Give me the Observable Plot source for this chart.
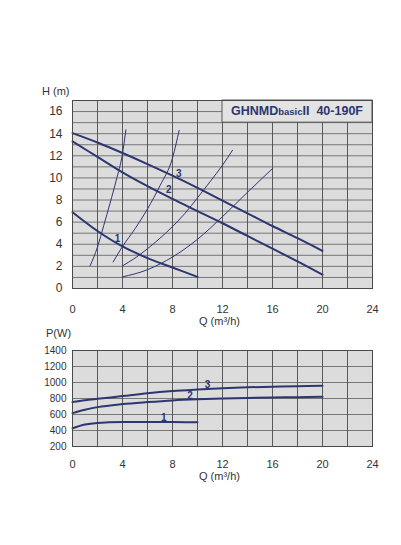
<!DOCTYPE html>
<html>
<head>
<meta charset="utf-8">
<script src="https://cdn.jsdelivr.net/npm/d3@7"></script>
<script src="https://cdn.jsdelivr.net/npm/@observablehq/plot@0.6"></script>
<style>
  html, body { margin: 0; padding: 0; background: #fff; }
  #page { position: relative; width: 401px; height: 545px; background: #fff; font-family: "Liberation Sans", Arial, sans-serif; color: #333; }
  .lbl { position: absolute; font-size: 11px; white-space: nowrap; color: #333; }
  #title { position: absolute; left: 222px; top: 100px; width: 150px; height: 22px; line-height: 22px; text-align: center; color: #2b3670; font-weight: bold; font-size: 12.5px; white-space: nowrap; }
  #title .sm { font-size: 9.5px; }
</style>
</head>
<body>
<div id="page">
  <div id="topChart" style="position:absolute;left:0;top:0"></div>
  <div id="botChart" style="position:absolute;left:0;top:330px"></div>
  <div class="lbl" style="left:42px;top:85px">H (m)</div>
  <div class="lbl" style="left:199px;top:315px">Q (m³/h)</div>
  <div class="lbl" style="left:46px;top:327px">P(W)</div>
  <div class="lbl" style="left:199px;top:470px">Q (m³/h)</div>
  <div id="title">GHNMD<span class="sm">basic</span>II&nbsp; 40-190F</div>
</div>
<script>
// ---------- Data ----------
// Head curves H(Q)
const qPump = [0, 2, 4, 6, 8, 10, 12, 14, 16, 18, 20];
const h3 = [14.05, 13.2, 12.25, 11.25, 10.2, 9.1, 7.95, 6.8, 5.65, 4.55, 3.4];
const h2 = [13.3, 11.9, 10.5, 9.25, 8.1, 7.0, 5.9, 4.75, 3.6, 2.45, 1.25];
const qPump1 = [0, 2, 4, 6, 8, 10];
const h1 = [6.9, 5.2, 3.8, 2.75, 1.9, 1.05];

// System (thin) curves
const qSysA = [1.41, 2.0, 2.5, 3.0, 3.5, 4.0, 4.27];
const hSysA = [2.05, 3.75, 5.7, 7.7, 9.8, 12.2, 14.35];
const qSysB = [3.25, 4, 5, 6, 7, 8, 8.53];
const hSysB = [2.4, 3.8, 5.4, 7.2, 9.3, 11.8, 14.3];
const qSysC = [4, 5, 6, 7, 8, 9, 10, 11, 12, 12.8];
const hSysC = [2.05, 2.75, 3.6, 4.55, 5.6, 6.8, 8.2, 9.65, 11.15, 12.5];
const qSysD = [4, 6, 8, 10, 12, 14, 16];
const hSysD = [1.05, 1.7, 2.85, 4.45, 6.5, 8.7, 10.85];

// Curve labels (top)
const topLabels = ["1", "2", "3"];
const topLabelQ = [3.6, 7.7, 8.5];
const topLabelH = [4.5, 8.9, 10.35];

// Power curves P(Q)
const qPow = [0, 1, 2, 4, 6, 8, 10, 12, 14, 16, 18, 20];
const p3 = [755, 778, 796, 830, 866, 893, 912, 928, 940, 947, 953, 958];
const p2 = [617, 660, 692, 730, 755, 776, 790, 800, 807, 812, 817, 821];
const qPow1 = [0, 1, 2, 4, 6, 8, 10];
const p1 = [428, 475, 495, 506, 507, 505, 503];

const botLabels = ["1", "2", "3"];
const botLabelQ = [7.3, 9.4, 10.8];
const botLabelP = [554, 837, 971];

// Ticks
const xTicks = [0, 4, 8, 12, 16, 20, 24];
const xGrid = [2, 4, 6, 8, 10, 12, 14, 16, 18, 20, 22];
const hTicks = [0, 2, 4, 6, 8, 10, 12, 14, 16];
const hGrid = [1,2,3,4,5,6,7,8,9,10,11,12,13,14,15,16];
const pTicks = [200, 400, 600, 800, 1000, 1200, 1400];

// Title box extent (data units)
const titleBox = [{x1: 12, x2: 24, y1: 15, y2: 17}];

// ---------- Build ----------
const navy = "#2d3670";
const gridColor = "#4a4a4a";
const bg = "#dcdcdc";
const zip = (xs, ys) => xs.map((x, i) => ({x, y: ys[i]}));
const crv = "monotone-x";

const topPlot = Plot.plot({
  width: 401, height: 330,
  marginLeft: 72, marginRight: 29, marginTop: 100, marginBottom: 42,
  style: {fontFamily: "Liberation Sans, Arial, sans-serif", fontSize: "11px", color: "#333", background: "transparent"},
  x: {domain: [0, 24]},
  y: {domain: [0, 17]},
  marks: [
    Plot.frame({fill: bg}),
    Plot.gridX(xGrid, {stroke: gridColor, strokeOpacity: 1, strokeWidth: 0.9}),
    Plot.gridY(hGrid, {stroke: gridColor, strokeOpacity: 1, strokeWidth: 0.7}),
    Plot.rect(titleBox, {x1: "x1", x2: "x2", y1: "y1", y2: "y2", fill: "#e3e3e3", stroke: gridColor, strokeWidth: 0.9}),
    Plot.line(zip(qSysA, hSysA), {x: "x", y: "y", stroke: navy, strokeWidth: 1, curve: crv}),
    Plot.line(zip(qSysB, hSysB), {x: "x", y: "y", stroke: navy, strokeWidth: 1, curve: crv}),
    Plot.line(zip(qSysC, hSysC), {x: "x", y: "y", stroke: navy, strokeWidth: 1, curve: crv}),
    Plot.line(zip(qSysD, hSysD), {x: "x", y: "y", stroke: navy, strokeWidth: 1, curve: crv}),
    Plot.line(zip(qPump, h3), {x: "x", y: "y", stroke: navy, strokeWidth: 2, curve: crv}),
    Plot.line(zip(qPump, h2), {x: "x", y: "y", stroke: navy, strokeWidth: 2, curve: crv}),
    Plot.line(zip(qPump1, h1), {x: "x", y: "y", stroke: navy, strokeWidth: 2, curve: crv}),
    Plot.text(topLabels.map((t, i) => ({t, x: topLabelQ[i], y: topLabelH[i]})), {x: "x", y: "y", text: "t", fill: navy, fontWeight: "bold", fontSize: 10}),
    Plot.frame({stroke: gridColor, strokeWidth: 1}),
    Plot.axisX(xTicks, {tickSize: 0, tickPadding: 17, label: null, fontSize: 11, fill: "#333", tickFormat: d => String(d)}),
    Plot.axisY(hTicks, {tickSize: 0, tickPadding: 10, label: null, fontSize: 12, fill: "#333", tickFormat: d => String(d)})
  ]
});
document.getElementById("topChart").appendChild(topPlot);

const botPlot = Plot.plot({
  width: 401, height: 160,
  marginLeft: 72, marginRight: 29, marginTop: 20, marginBottom: 44,
  style: {fontFamily: "Liberation Sans, Arial, sans-serif", fontSize: "11px", color: "#333", background: "transparent"},
  x: {domain: [0, 24]},
  y: {domain: [200, 1400]},
  marks: [
    Plot.frame({fill: bg}),
    Plot.gridX(xGrid, {stroke: gridColor, strokeOpacity: 1, strokeWidth: 0.9}),
    Plot.gridY(pTicks, {stroke: gridColor, strokeOpacity: 1, strokeWidth: 0.7}),
    Plot.line(zip(qPow, p3), {x: "x", y: "y", stroke: navy, strokeWidth: 2, curve: crv}),
    Plot.line(zip(qPow, p2), {x: "x", y: "y", stroke: navy, strokeWidth: 2, curve: crv}),
    Plot.line(zip(qPow1, p1), {x: "x", y: "y", stroke: navy, strokeWidth: 2, curve: crv}),
    Plot.text(botLabels.map((t, i) => ({t, x: botLabelQ[i], y: botLabelP[i]})), {x: "x", y: "y", text: "t", fill: navy, fontWeight: "bold", fontSize: 10}),
    Plot.frame({stroke: gridColor, strokeWidth: 1}),
    Plot.axisX(xTicks, {tickSize: 0, tickPadding: 14, label: null, fontSize: 11, fill: "#333", tickFormat: d => String(d)}),
    Plot.axisY(pTicks, {tickSize: 0, tickPadding: 6, label: null, fontSize: 10, fill: "#333", tickFormat: d => String(d)})
  ]
});
document.getElementById("botChart").appendChild(botPlot);
</script>
</body>
</html>
